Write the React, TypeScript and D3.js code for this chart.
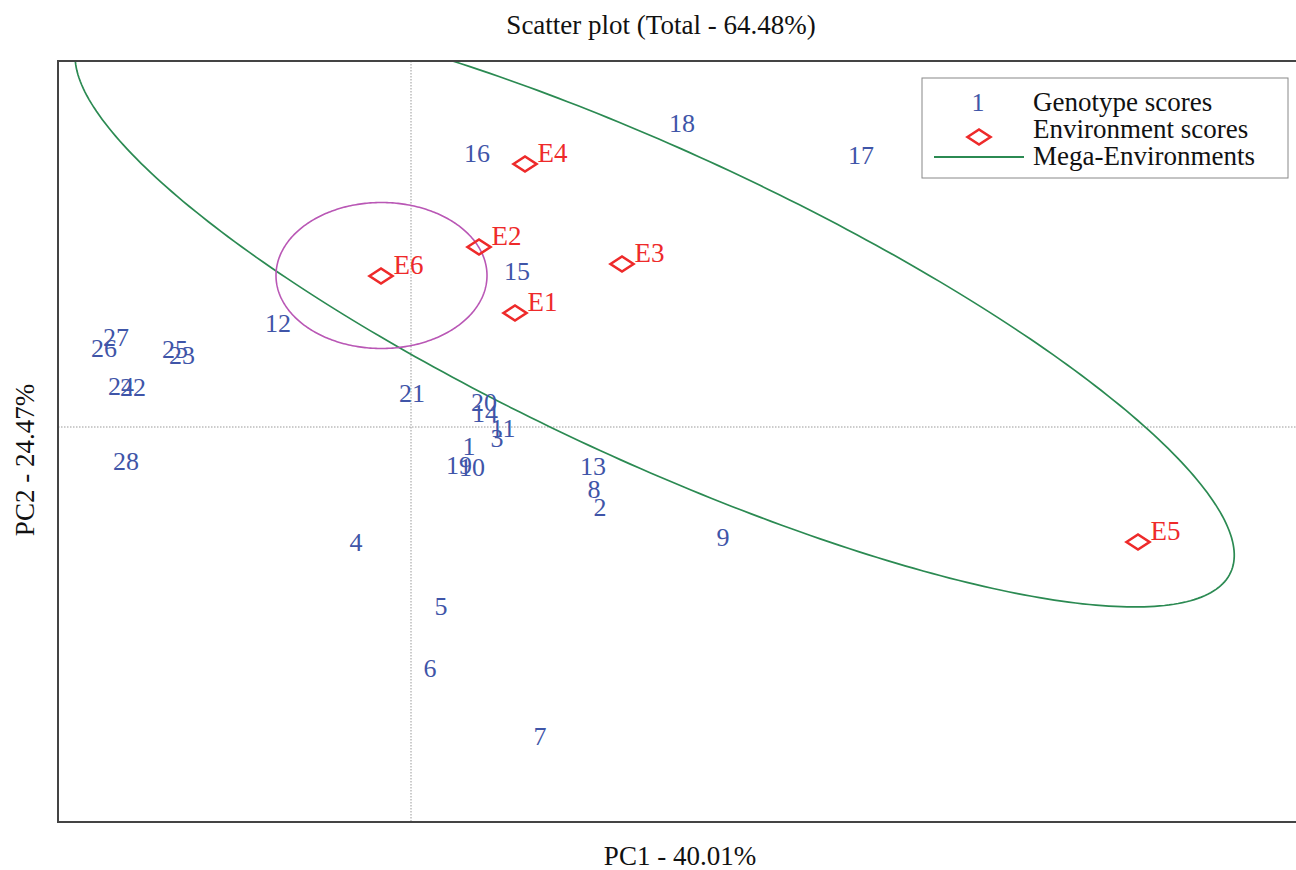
import React from 'react';
import * as d3 from 'd3';

// genotype scores (PC1, PC2)
const genoIds = ['1','2','3','4','5','6','7','8','9','10','11','12','13','14','15','16','17','18','19','20','21','22','23','24','25','26','27','28'];
const genoPC1 = [0.58, 1.89, 0.86, -0.55, 0.30, 0.19, 1.29, 1.83, 3.12, 0.61, 0.92, -1.33, 1.82, 0.74, 1.06, 0.66, 4.50, 2.71, 0.48, 0.73, 0.01, -2.78, -2.29, -2.90, -2.36, -3.07, -2.95, -2.85];
const genoPC2 = [-0.19, -0.80, -0.11, -1.15, -1.79, -2.41, -3.09, -0.62, -1.10, -0.40, -0.01, 1.04, -0.39, 0.14, 1.56, 2.74, 2.72, 3.04, -0.38, 0.25, 0.34, 0.40, 0.72, 0.41, 0.78, 0.79, 0.90, -0.34];

// environment scores
const envIds = ['E1', 'E2', 'E3', 'E4', 'E5', 'E6'];
const envPC1 = [1.04, 0.68, 2.11, 1.14, 7.27, -0.30];
const envPC2 = [1.14, 1.80, 1.63, 2.63, -1.15, 1.51];

// mega-environment ellipses: center x, center y, semi-axis a, semi-axis b, rotation (deg)
const megaGreen = [2.437, 1.21, 6.346, 1.541, -24.83];
const megaPink = [-0.295, 1.515, 1.055, 0.73, 0];

const xDomain = [-3.53, 8.85];
const yDomain = [-3.95, 3.66];

const W = 1296;
const H = 870;
const L = 58, T = 61, R = 1296, B = 822;

const FONT = "'Liberation Serif', 'Times New Roman', serif";
const BLUE = '#3f55a8';
const RED = '#ee2a2a';
const GREEN = '#2b8a52';
const PINK = '#b957b5';

export default function App() {
  const x = d3.scaleLinear().domain(xDomain).range([L, R]);
  const y = d3.scaleLinear().domain(yDomain).range([B, T]);

  const ellipsePath = (e: number[]) => {
    const [cx, cy, a, b, deg] = e;
    const th = (deg * Math.PI) / 180;
    const pts = d3.range(0, 360, 1).map((k) => {
      const t = (k * Math.PI) / 180;
      const ex = a * Math.cos(t);
      const ey = b * Math.sin(t);
      return [cx + ex * Math.cos(th) - ey * Math.sin(th), cy + ex * Math.sin(th) + ey * Math.cos(th)];
    });
    return d3.line<number[]>().x((d) => x(d[0])).y((d) => y(d[1])).curve(d3.curveLinearClosed)(pts) || '';
  };

  const diamond = 'M -11.5 0 L 0 -7.5 L 11.5 0 L 0 7.5 Z';

  return (
    <svg width={W} height={H} style={{ position: 'absolute', left: 0, top: 0, background: '#fff' }} fontFamily={FONT}>
      <defs>
        <clipPath id="plot">
          <rect x={L} y={T} width={R - L} height={B - T} />
        </clipPath>
      </defs>

      {/* zero lines */}
      <line x1={x(0)} x2={x(0)} y1={T} y2={B} stroke="#999" strokeWidth={1} strokeDasharray="1.5,1.5" />
      <line x1={L} x2={R} y1={y(0)} y2={y(0)} stroke="#999" strokeWidth={1} strokeDasharray="1.5,1.5" />

      <g clipPath="url(#plot)">
        <path d={ellipsePath(megaGreen)} fill="none" stroke={GREEN} strokeWidth={1.7} />
        <path d={ellipsePath(megaPink)} fill="none" stroke={PINK} strokeWidth={1.6} />
      </g>

      {/* frame */}
      <path d={`M ${R + 2} ${T} H ${L} V ${B} H ${R + 2}`} fill="none" stroke="#444" strokeWidth={2} />

      {/* genotypes */}
      {genoIds.map((id, i) => (
        <text key={id} x={x(genoPC1[i])} y={y(genoPC2[i])} dy="0.34em" textAnchor="middle" fontSize={26} fill={BLUE}>
          {id}
        </text>
      ))}

      {/* environments */}
      {envIds.map((id, i) => (
        <g key={id} transform={`translate(${x(envPC1[i])},${y(envPC2[i])})`}>
          <path d={diamond} fill="none" stroke={RED} strokeWidth={2.6} />
          <text x={12.5} y={-2.5} fontSize={27} fill={RED}>{id}</text>
        </g>
      ))}

      {/* legend */}
      <g>
        <rect x={922} y={78} width={366} height={100} fill="#fff" stroke="#888" strokeWidth={1} />
        <text x={978} y={111} textAnchor="middle" fontSize={26} fill={BLUE}>1</text>
        <path d={diamond} transform="translate(979,137)" fill="none" stroke={RED} strokeWidth={2.6} />
        <line x1={934} x2={1024} y1={157} y2={157} stroke={GREEN} strokeWidth={1.8} />
        <text x={1033} y={111} fontSize={27} fill="#111">Genotype scores</text>
        <text x={1033} y={138} fontSize={27} fill="#111">Environment scores</text>
        <text x={1033} y={165} fontSize={27} fill="#111">Mega-Environments</text>
      </g>

      {/* titles */}
      <text x={661} y={34} textAnchor="middle" fontSize={27} fill="#111">Scatter plot (Total - 64.48%)</text>
      <text x={680} y={865} textAnchor="middle" fontSize={27} fill="#111">PC1 - 40.01%</text>
      <text transform="translate(34,460) rotate(-90)" textAnchor="middle" fontSize={27} fill="#111">PC2 - 24.47%</text>
    </svg>
  );
}
